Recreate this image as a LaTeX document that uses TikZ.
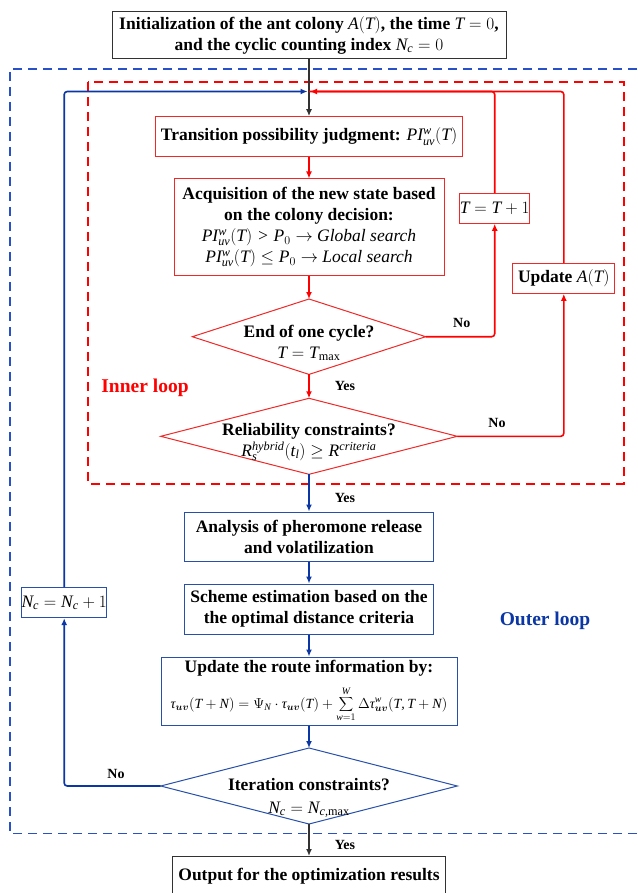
\documentclass[tikz,border=0pt]{standalone}
\usepackage{bm}
\usepackage{fontspec}
\setmainfont{Liberation Serif}
\newfontfamily\mathletters{Liberation Serif}[NFSSFamily=libserif]
\DeclareSymbolFont{letters}{TU}{libserif}{m}{it}
\SetSymbolFont{letters}{bold}{TU}{libserif}{b}{it}
\mathcode`\,="612C
\AtBeginDocument{\Umathchardef\tau="0 "1 "3C4 \mathcode`\,="612C}
\usetikzlibrary{arrows.meta}
\definecolor{myred}{RGB}{255,0,0}
\definecolor{boxred}{RGB}{240,40,40}
\definecolor{myblue}{RGB}{10,55,165}
\definecolor{boxblue}{RGB}{40,80,170}
\definecolor{dashblue}{RGB}{40,80,200}
\definecolor{mygray}{RGB}{50,50,50}
\begin{document}
\begin{tikzpicture}[x=1pt,y=-1pt,
  every node/.style={font=\fontsize{17.5}{21}\selectfont\bfseries, inner sep=0pt, align=center},
  redbox/.style={draw=boxred, line width=1pt, rectangle},
  bluebox/.style={draw=boxblue, line width=1pt, rectangle},
  blackbox/.style={draw=mygray, line width=1pt, rectangle},
  redshape/.style={draw=boxred, line width=1pt},
  blueshape/.style={draw=boxblue, line width=1pt},
  tip/.style={-{Latex[length=7pt,width=6pt]}},
  redline/.style={draw=myred, line width=1.6pt, rounded corners=3pt},
  blueline/.style={draw=myblue, line width=1.6pt, rounded corners=3pt},
  blackline/.style={draw=mygray, line width=1.6pt},
  lbl/.style={font=\fontsize{14}{16}\selectfont\bfseries},
  dtext/.style={font=\fontsize{17.5}{21}\selectfont\bfseries},
]
\useasboundingbox (0,0) rectangle (637,893);
\fill[white] (0,0) rectangle (637,893);

% loop frames
\draw[draw=dashblue, line width=1.6pt, dash pattern=on 9pt off 6pt] (637,69.3) -- (9.7,69.3) -- (9.7,833.3) -- (637,833.3);
\draw[draw=myred, line width=1.6pt, dash pattern=on 9pt off 6pt] (87.7,82.3) rectangle (624,483.7);

% boxes
\node[blackbox, minimum width=394pt, minimum height=47pt] (top) at (309,35)
  {Initialization of the ant colony $A(T)$, the time $T=0$,\\ and the cyclic counting index $N_c=0$};
\node[redbox, minimum width=307pt, minimum height=40pt] (trans) at (309,136.7)
  {Transition possibility judgment: $PI_{uv}^{w}(T)$};
\node[redbox, minimum width=270pt, minimum height=96pt] (acq) at (309,227)
  {Acquisition of the new state based\\ on the colony decision:\\
   $PI_{uv}^{w}(T)>P_0\rightarrow$ {\mdseries\itshape Global search}\\
   $PI_{uv}^{w}(T)\le P_0\rightarrow$ {\mdseries\itshape Local search}};
\node[redbox, minimum width=66pt, minimum height=30pt] (t1) at (494.7,208.3) {$T=T+1$};
\node[redbox, minimum width=102pt, minimum height=30pt] (upd) at (563.8,278.3) {Update $A(T)$};
\node[bluebox, minimum width=249pt, minimum height=49pt] (ana) at (309,536.5)
  {Analysis of pheromone release\\ and volatilization};
\node[bluebox, minimum width=249pt, minimum height=50pt] (sch) at (309,609)
  {Scheme estimation based on the\\ the optimal distance criteria};
\node[bluebox, minimum width=296pt, minimum height=68pt] (upr) at (309,691)
  {Update the route information by:\\[10pt]
   {\fontsize{14}{17}\selectfont $\tau_{\bm{uv}}(T+N)=\Psi_N\cdot\tau_{\bm{uv}}(T)+\displaystyle\sum_{w=1}^{W}\Delta\tau_{\bm{uv}}^{w}(T,T+N)$}};
\node[bluebox, minimum width=84pt, minimum height=30pt] (nc) at (64.2,602.7) {$N_c=N_c+1$};
\node[blackbox, minimum width=273pt, minimum height=40pt] (out) at (309,876.5)
  {Output for the optimization results};

% diamonds
\coordinate (d1t) at (309,299); \coordinate (d1b) at (309,374.4);
\coordinate (d1l) at (192.3,336.7); \coordinate (d1r) at (425.7,336.7);
\draw[redshape] (d1t) -- (d1r) -- (d1b) -- (d1l) -- cycle;
\node[dtext] (d1txt) at (309,343) {End of one cycle?\\ {\mdseries $T=T_{\max}$}};

\coordinate (d2t) at (309,398.3); \coordinate (d2b) at (309,474.3);
\coordinate (d2l) at (160.7,436.3); \coordinate (d2r) at (457.3,436.3);
\draw[redshape] (d2t) -- (d2r) -- (d2b) -- (d2l) -- cycle;
\node[dtext] (d2txt) at (309,442) {Reliability constraints?\\[0pt] {\mdseries $R_s^{\mathit{hybrid}}(t_l)\ge R^{\mathit{criteria}}$}};

\coordinate (d3t) at (309,748); \coordinate (d3b) at (309,824);
\coordinate (d3l) at (160.7,786); \coordinate (d3r) at (457.3,786);
\draw[blueshape] (d3t) -- (d3r) -- (d3b) -- (d3l) -- cycle;
\node[dtext] (d3txt) at (309,798) {Iteration constraints?\\[2pt] {\mdseries $N_c=N_{c,\max}$}};

% merge point
\coordinate (m) at (309,91.5);

% connectors
\draw[blackline, tip] (top.south) -- (trans.north);
\draw[redline] (t1.north) |- (m);
\draw[redline, tip, shorten >=1pt] (upd.north) |- (m);
\draw[blueline, tip, shorten >=1.5pt] (nc.north) |- (m);
\draw[redline, tip] (trans.south) -- (acq.north);
\draw[redline, tip] (acq.south) -- (d1t);
\draw[redline, tip] (d1b) -- (d2t);
\draw[redline, tip] (d1r) -| (t1.south);
\draw[redline, tip] (d2r) -| (upd.south);
\draw[blueline, tip] (d2b) -- (ana.north);
\draw[blueline, tip] (ana.south) -- (sch.north);
\draw[blueline, tip] (sch.south) -- (upr.north);
\draw[blueline, tip] (upr.south) -- (d3t);
\draw[blueline, tip] (d3l) -| (nc.south);
\draw[blackline, tip] (d3b) -- (out.north);

% labels
\node[lbl] (no1) at (461.7,323) {No};
\node[lbl] (yes1) at (345,386) {Yes};
\node[lbl] (no2) at (497,423) {No};
\node[lbl] (yes2) at (345,498) {Yes};
\node[lbl] (no3) at (116,774) {No};
\node[lbl] (yes3) at (345,845) {Yes};
\node[font=\fontsize{19.5}{22}\selectfont\bfseries, text=myred] (inner) at (145,388) {Inner loop};
\node[font=\fontsize{19.5}{22}\selectfont\bfseries, text=myblue] (outer) at (545,621) {Outer loop};
\end{tikzpicture}
\end{document}
